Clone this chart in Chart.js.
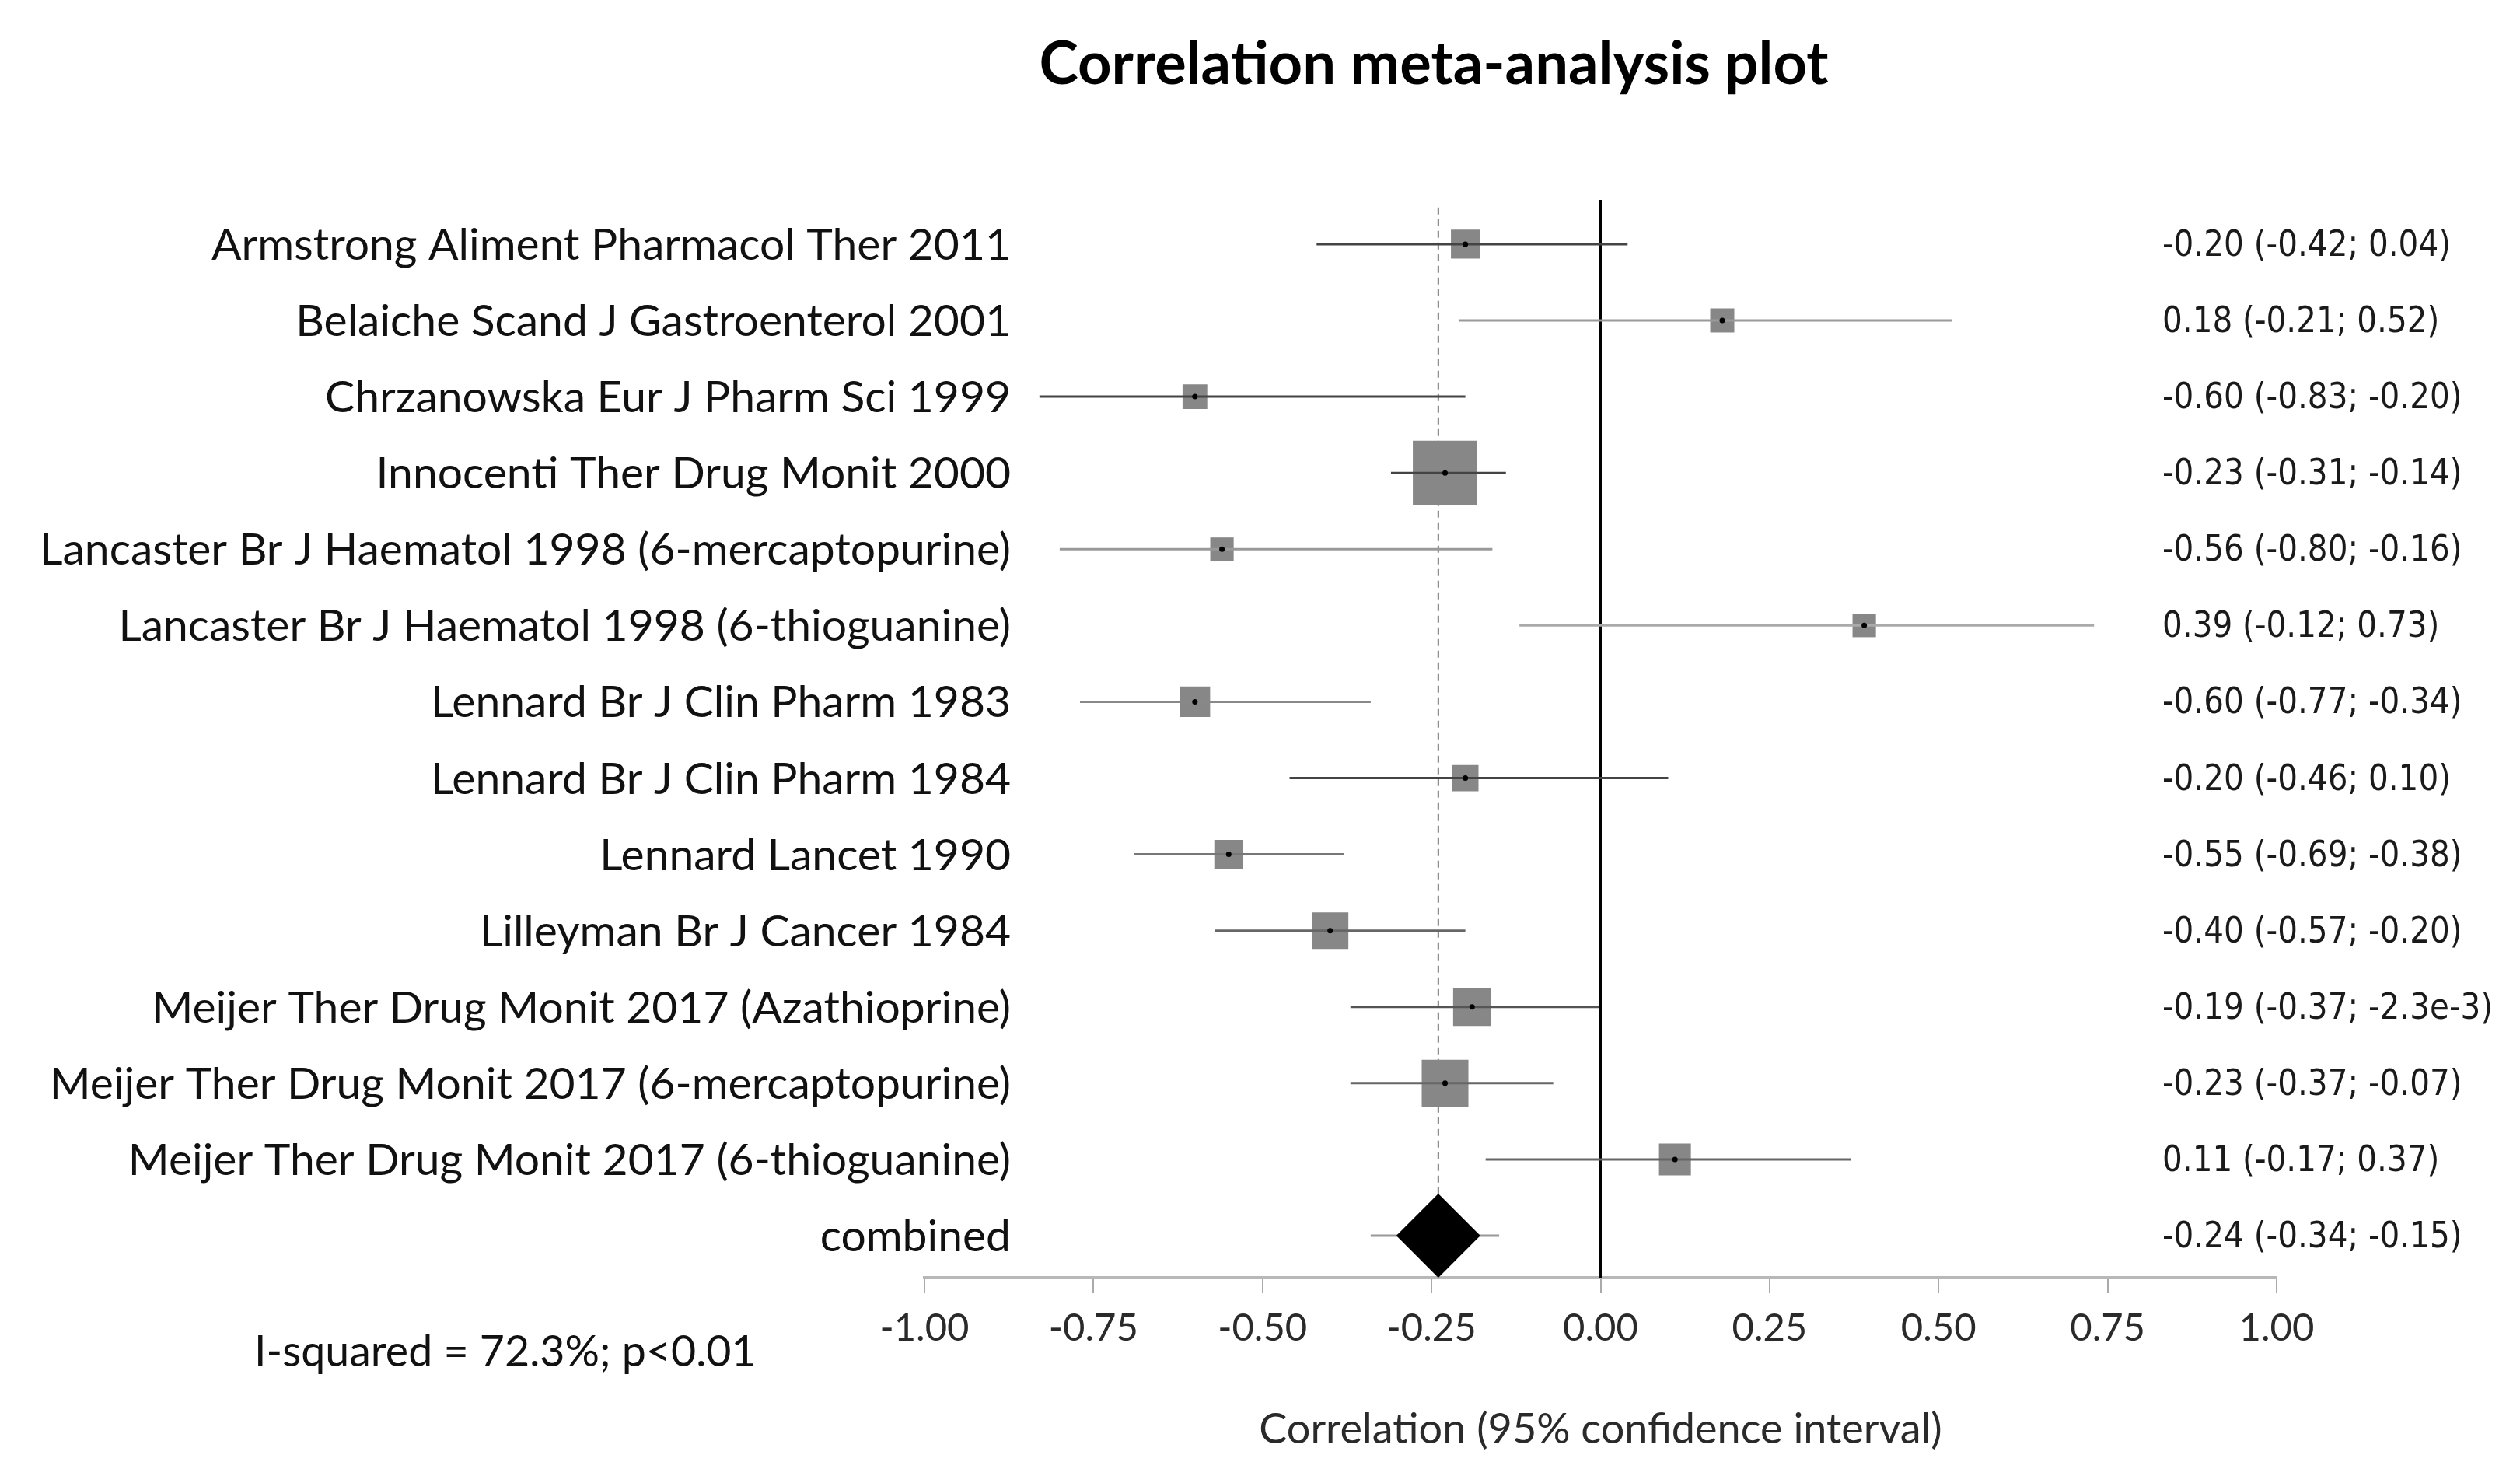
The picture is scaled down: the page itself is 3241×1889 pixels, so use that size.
<!DOCTYPE html>
<html><head><meta charset="utf-8">
<script src="https://cdn.jsdelivr.net/npm/chart.js@4.4.1/dist/chart.umd.min.js"></script>
<style>html,body{margin:0;padding:0;background:#fff;overflow:hidden}canvas{display:block}</style>
</head><body>
<canvas id="c" width="3241" height="1889"></canvas>
<script>
// ---------- data ----------
const studies = [
  'Armstrong Aliment Pharmacol Ther 2011',
  'Belaiche Scand J Gastroenterol 2001',
  'Chrzanowska Eur J Pharm Sci 1999',
  'Innocenti Ther Drug Monit 2000',
  'Lancaster Br J Haematol 1998 (6-mercaptopurine)',
  'Lancaster Br J Haematol 1998 (6-thioguanine)',
  'Lennard Br J Clin Pharm 1983',
  'Lennard Br J Clin Pharm 1984',
  'Lennard Lancet 1990',
  'Lilleyman Br J Cancer 1984',
  'Meijer Ther Drug Monit 2017 (Azathioprine)',
  'Meijer Ther Drug Monit 2017 (6-mercaptopurine)',
  'Meijer Ther Drug Monit 2017 (6-thioguanine)'
];
const pooledLabel = 'combined';
const estimates = [-0.20, 0.18, -0.60, -0.23, -0.56, 0.39, -0.60, -0.20, -0.55, -0.40, -0.19, -0.23, 0.11];
const ciLower   = [-0.42, -0.21, -0.83, -0.31, -0.80, -0.12, -0.77, -0.46, -0.69, -0.57, -0.37, -0.37, -0.17];
const ciUpper   = [0.04, 0.52, -0.20, -0.14, -0.16, 0.73, -0.34, 0.10, -0.38, -0.20, -0.0023, -0.07, 0.37];
const weights   = [5.3, 3.7, 3.9, 26.5, 3.5, 3.5, 5.9, 4.4, 5.3, 8.5, 9.2, 13.9, 6.5];
const pooledEst = -0.24, pooledLower = -0.34, pooledUpper = -0.15;
const tickValues = [-1, -0.75, -0.5, -0.25, 0, 0.25, 0.5, 0.75, 1];
const tickLabels = ['-1.00', '-0.75', '-0.50', '-0.25', '0.00', '0.25', '0.50', '0.75', '1.00'];
const chartTitle = 'Correlation meta-analysis plot';
const axisTitle = 'Correlation (95% confidence interval)';
const heterogeneity = 'I-squared = 72.3%; p<0.01';

// ---------- styles ----------
const ciColors = ['#444', '#999', '#444', '#444', '#999', '#aaa', '#888', '#444', '#777', '#666', '#555', '#666', '#666'];
const pooledWhiskerColor = '#999';
const boxColor = '#878787';
const boxScale = 16.1;

const fmt = v => (Math.abs(v) < 0.005 ? v.toExponential(1) : v.toFixed(2));
const rowLabels = studies.concat([pooledLabel]);
const summaryText = estimates.map((e, i) => `${fmt(e)} (${fmt(ciLower[i])}; ${fmt(ciUpper[i])})`)
  .concat([`${fmt(pooledEst)} (${fmt(pooledLower)}; ${fmt(pooledUpper)})`]);
const pooledRow = studies.length + 1;

const datasets = [];
// center dots (top)
datasets.push({
  data: estimates.map((e, i) => ({x: e, y: i + 1})),
  pointStyle: 'circle', pointRadius: 3.5, pointBackgroundColor: '#000', pointBorderWidth: 0,
  showLine: false, order: 0
});
// diamond for pooled estimate
datasets.push({
  data: [{x: pooledEst, y: pooledRow}],
  pointStyle: 'rectRot', pointRadius: 54, pointBackgroundColor: '#000', pointBorderWidth: 0,
  showLine: false, order: 1
});
// confidence interval lines
estimates.forEach((e, i) => {
  datasets.push({
    data: [{x: ciLower[i], y: i + 1}, {x: ciUpper[i], y: i + 1}],
    showLine: true, borderColor: ciColors[i], borderWidth: 3, pointRadius: 0, order: 2
  });
});
datasets.push({
  data: [{x: pooledLower, y: pooledRow}, {x: pooledUpper, y: pooledRow}],
  showLine: true, borderColor: pooledWhiskerColor, borderWidth: 3, pointRadius: 0, order: 2
});
// zero line
datasets.push({
  data: [{x: 0, y: 0.42}, {x: 0, y: 14.55}],
  showLine: true, borderColor: '#000', borderWidth: 3, pointRadius: 0, order: 3
});
// boxes
datasets.push({
  data: estimates.map((e, i) => ({x: e, y: i + 1})),
  pointStyle: 'rect', pointRadius: weights.map(w => boxScale * Math.sqrt(w) / Math.SQRT2),
  pointBackgroundColor: boxColor, pointBorderWidth: 0, showLine: false, order: 4
});
// dashed pooled line
datasets.push({
  data: [{x: pooledEst, y: 0.52}, {x: pooledEst, y: pooledRow}],
  showLine: true, borderColor: '#777', borderWidth: 2, borderDash: [9, 6], pointRadius: 0, order: 5
});

const textPlugin = {
  id: 'forestText',
  afterDraw(chart) {
    const ctx = chart.ctx;
    const ys = chart.scales.y;
    ctx.save();
    ctx.textBaseline = 'alphabetic';
    // title
    ctx.fillStyle = '#000';
    ctx.font = 'bold 76px Lato';
    ctx.textAlign = 'center';
    ctx.fillText(chartTitle, 1844, 108);
    // row labels
    ctx.fillStyle = '#111';
    ctx.font = '57px Lato';
    ctx.textAlign = 'right';
    rowLabels.forEach((t, i) => ctx.fillText(t, 1300, ys.getPixelForValue(i + 1) + 20));
    // heterogeneity
    ctx.font = '55.5px Lato';
    ctx.textAlign = 'left';
    ctx.fillText(heterogeneity, 327, 1757);
    // right summary column
    ctx.fillStyle = '#1a1a1a';
    ctx.font = '46px "DejaVu Sans"';
    const sx = 371 / ctx.measureText(summaryText[0]).width;
    summaryText.forEach((t, i) => {
      ctx.save();
      ctx.translate(2781, ys.getPixelForValue(i + 1) + 15);
      ctx.scale(sx, 1);
      ctx.fillText(t, 0, 0);
      ctx.restore();
    });
    ctx.restore();
  }
};

new Chart(document.getElementById('c'), {
  type: 'scatter',
  data: {datasets},
  plugins: [textPlugin],
  options: {
    responsive: false,
    devicePixelRatio: 1,
    animation: false,
    events: [],
    layout: {padding: {left: 1189, right: 313, top: 257, bottom: 17.6}},
    plugins: {legend: {display: false}, tooltip: {enabled: false}, title: {display: false}},
    scales: {
      x: {
        type: 'linear', position: 'bottom', min: -1, max: 1,
        afterBuildTicks: s => { s.ticks = tickValues.map(v => ({value: v})); },
        ticks: {
          callback: (v, i) => tickLabels[i],
          font: {family: 'Lato', size: 49}, color: '#2a2a2a', padding: 16,
          maxRotation: 0, minRotation: 0, autoSkip: false
        },
        grid: {drawOnChartArea: false, drawTicks: true, tickLength: 20, color: '#aaa', lineWidth: 2},
        border: {display: true, color: '#b8b8b8', width: 4},
        title: {display: true, text: axisTitle, font: {family: 'Lato', size: 54}, color: '#2a2a2a', padding: {top: 52.8, bottom: 0}}
      },
      y: {type: 'linear', reverse: true, min: 0.42, max: 14.55, display: false}
    }
  }
});
</script>
</body></html>
